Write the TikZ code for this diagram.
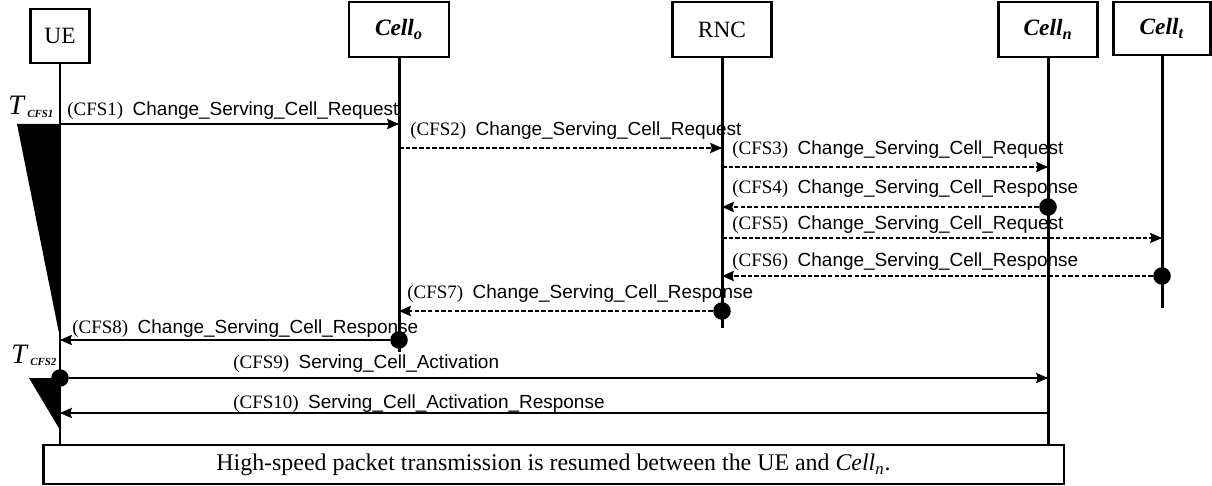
\documentclass[tikz,border=0pt]{standalone}
\usepackage{fontspec}
\setmainfont{Liberation Serif}
\setsansfont{Liberation Sans}
\usepackage{tikz}
\usetikzlibrary{arrows.meta}
\newcommand{\cellname}[1]{\textbf{\textit{Cell}}\textsubscript{\textbf{\textit{#1}}}}
\newcommand{\msgtext}[2]{(CFS#1)~~\textsf{#2}}
\newcommand{\timer}[1]{\textit{T}\kern1pt\raisebox{-1.7pt}{\fontsize{6.2}{7}\selectfont\textbf{\textit{CFS#1}}}}

\begin{document}
\begin{tikzpicture}[x=0.02cm,y=-0.02cm,
  entity/.style={draw,line width=1.6pt,inner sep=0pt,minimum height=1.1cm,font=\fontsize{13.3}{15}\selectfont},
  life/.style={line width=1.7pt},
  msg/.style={line width=0.6pt,-{Stealth[length=6.8pt,width=5.9pt,inset=1pt]}},
  reply/.style={msg,dash pattern=on 2.6pt off 1.2pt},
  lbl/.style={anchor=base west,inner sep=0pt,font=\fontsize{10.8}{13}\selectfont},
  ackdot/.style={circle,fill,inner sep=0pt,minimum size=10pt}]
\useasboundingbox (0,0) rectangle (1212,486);
% entities
\node[entity,minimum width=1.18cm,minimum height=1.08cm] (UE) at (60,36) {UE};
\node[entity,minimum width=2cm] (Cello) at (399,29.5) {\cellname{o}};
\node[entity,minimum width=1.98cm] (RNC) at (722,29.5) {RNC};
\node[entity,minimum width=1.98cm] (Celln) at (1048,29.5) {\cellname{n}};
\node[entity,minimum width=1.94cm,minimum height=1.06cm] (Cellt) at (1162,28.5) {\cellname{t}};
\node[entity,minimum width=20.42cm,minimum height=0.78cm,font=\fontsize{13.6}{16}\selectfont] (resume) at (553.5,464.5)
  {High-speed packet transmission is resumed between the UE and \textit{Cell}\textsubscript{\textit{n}}.};
% timers
\fill (17,124) -- (UE |- 0,124) -- (UE |- 0,338) -- cycle;
\fill (29,378) -- (UE |- 0,378) -- (UE |- 0,430) -- cycle;
\node[anchor=base west,inner sep=0pt,font=\fontsize{16}{18}\selectfont] (T1) at (8,115) {\timer{1}};
\node[anchor=base west,inner sep=0pt,font=\fontsize{16}{18}\selectfont] (T2) at (11,363) {\timer{2}};
% labels
\node[lbl] (m1) at (67,116) {\msgtext{1}{Change\_Serving\_Cell\_Request}};
\node[lbl] (m2) at (410,136) {\msgtext{2}{Change\_Serving\_Cell\_Request}};
\node[lbl] (m3) at (732,154) {\msgtext{3}{Change\_Serving\_Cell\_Request}};
\node[lbl] (m4) at (732,194) {\msgtext{4}{Change\_Serving\_Cell\_Response}};
\node[lbl] (m5) at (732,229) {\msgtext{5}{Change\_Serving\_Cell\_Request}};
\node[lbl] (m6) at (732,266) {\msgtext{6}{Change\_Serving\_Cell\_Response}};
\node[lbl] (m7) at (407,298) {\msgtext{7}{Change\_Serving\_Cell\_Response}};
\node[lbl] (m8) at (72,333) {\msgtext{8}{Change\_Serving\_Cell\_Response}};
\node[lbl] (m9) at (233,368) {\msgtext{9}{Serving\_Cell\_Activation}};
\node[lbl] (m10) at (233,408) {\msgtext{10}{Serving\_Cell\_Activation\_Response}};
% lifelines
\draw[life] (UE.south) -- (UE |- resume.north);
\draw[life] (Cello.south) -- (Cello |- 0,352);
\draw[life] (RNC.south) -- (RNC |- 0,328);
\draw[life] (Celln.south) -- (Celln |- resume.north);
\draw[life] (Cellt.south) -- (Cellt |- 0,308);
% messages
\draw[msg] (UE |- 0,124) -- (Cello |- 0,124);
\draw[reply] (Cello |- 0,148) -- (RNC |- 0,148);
\draw[reply] (RNC |- 0,167) -- (Celln |- 0,167);
\node[ackdot] (d4) at (Celln |- 0,207) {};
\draw[reply] (d4) -- (RNC |- 0,207);
\draw[reply] (RNC |- 0,238) -- (Cellt |- 0,238);
\node[ackdot] (d6) at (Cellt |- 0,276) {};
\draw[reply] (d6) -- (RNC |- 0,276);
\node[ackdot] (d7) at (RNC |- 0,311) {};
\draw[reply] (d7) -- (Cello |- 0,311);
\node[ackdot] (d8) at (Cello |- 0,340) {};
\draw[msg] (d8) -- (UE |- 0,340);
\node[ackdot] (d9) at (UE |- 0,378) {};
\draw[msg] (d9) -- (Celln |- 0,378);
\draw[msg] (Celln |- 0,413) -- (UE |- 0,413);
\end{tikzpicture}
\end{document}
